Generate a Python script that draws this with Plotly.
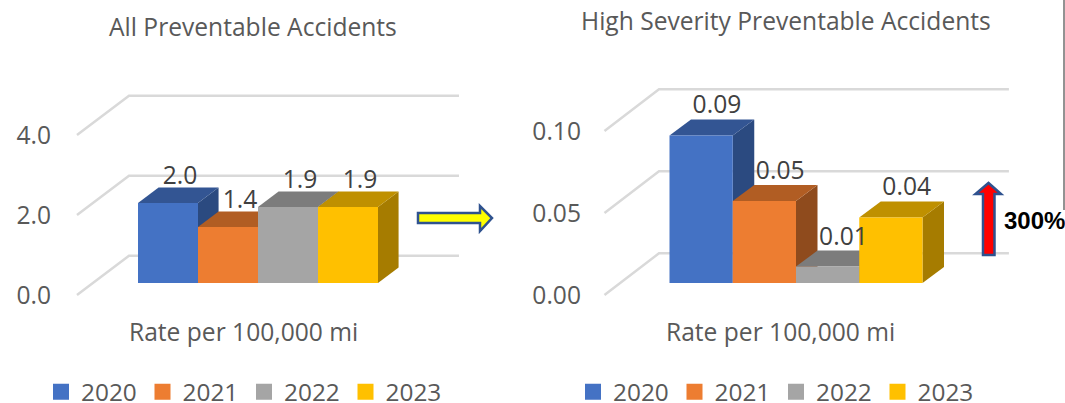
import plotly.graph_objects as go

W, H = 1065, 403
years = ["2020", "2021", "2022", "2023"]
all_rates = [2.0, 1.4, 1.9, 1.9]
all_labels = ["2.0", "1.4", "1.9", "1.9"]
high_rates = [0.09, 0.05, 0.01, 0.04]
high_labels = ["0.09", "0.05", "0.01", "0.04"]
all_ticks = [0.0, 2.0, 4.0]
all_ticktext = ["0.0", "2.0", "4.0"]
high_ticks = [0.00, 0.05, 0.10]
high_ticktext = ["0.00", "0.05", "0.10"]
front = ["#4472C4", "#ED7D31", "#A5A5A5", "#FFC000"]
top = ["#335593", "#B15D23", "#7C7C7C", "#BF9000"]
side = ["#2B4A80", "#8F4B1D", "#636363", "#A67C00"]
GRID = "#D9D9D9"
FONT = "Open Sans"
TICK = "#595959"
LABEL = "#404040"
SIZE = 24.6


def fx(p):
    return p / W


def fy(p):
    return 1 - p / H


fig = go.Figure()


def panel(n, vals, labels, ticks, ticktext, x0px, xunit, y0px, yunit, dom,
          depth_x, depth_y, wall_y, floor_y, wall_xl, wall_xr, ob_x, label_dx, label_dy, legend):
    a = 2 * n - 1
    b = 2 * n
    xa, ya = ("x" if a == 1 else f"x{a}"), ("y" if a == 1 else f"y{a}")
    xb, yb = f"x{b}", f"y{b}"
    xrange_ = [(dom[0] - x0px) / xunit, (dom[1] - x0px) / xunit]
    yrange_ = [(y0px - dom[3]) / yunit, (y0px - dom[2]) / yunit]
    # gridlines on back wall and side wall
    gx, gy = [], []
    for t in ticks:
        gx += [ob_x, wall_xl, wall_xr, None]
        gy += [t + floor_y, t + wall_y, t + wall_y, None]
    fig.add_trace(go.Scatter(x=gx, y=gy, mode="lines", xaxis=xa, yaxis=ya,
                             line=dict(color=GRID, width=2.5), showlegend=False, hoverinfo="skip"))
    # 3D faces, left to right
    for i, v in enumerate(vals):
        fig.add_trace(go.Scatter(
            x=[i + 1, i + 1 + depth_x, i + 1 + depth_x, i + 1, i + 1],
            y=[0, depth_y, v + depth_y, v, 0],
            mode="lines", fill="toself", fillcolor=side[i], line=dict(width=0, color=side[i]),
            xaxis=xa, yaxis=ya, showlegend=False, hoverinfo="skip"))
        fig.add_trace(go.Scatter(
            x=[i, i + 1, i + 1 + depth_x, i + depth_x, i],
            y=[v, v, v + depth_y, v + depth_y, v],
            mode="lines", fill="toself", fillcolor=top[i], line=dict(width=0, color=top[i]),
            xaxis=xa, yaxis=ya, showlegend=False, hoverinfo="skip"))
    # front faces
    fig.add_trace(go.Bar(x=[i + 0.5 for i in range(4)], y=vals, width=1,
                         marker=dict(color=front, line=dict(width=0)),
                         xaxis=xb, yaxis=yb, showlegend=False))
    fig.add_trace(go.Scatter(x=[i + 0.5 + label_dx for i in range(4)],
                             y=[v + label_dy for v in vals], text=labels, mode="text",
                             textposition="middle center",
                             textfont=dict(family=FONT, size=SIZE, color=LABEL),
                             xaxis=xb, yaxis=yb, showlegend=False, cliponaxis=False))
    # legend entries
    for i, yr in enumerate(years):
        fig.add_trace(go.Scatter(x=[None], y=[None], mode="markers", name=yr,
                                 marker=dict(symbol="square", size=16, color=front[i]),
                                 xaxis=xb, yaxis=yb, legend=legend))
    dx = [fx(dom[0]), fx(dom[1])]
    dy = [fy(dom[3]), fy(dom[2])]
    hide = dict(showgrid=False, zeroline=False, showline=False, showticklabels=False, ticks="")
    fig.update_layout({
        ("xaxis" if a == 1 else f"xaxis{a}"): dict(domain=dx, range=xrange_, anchor=ya, **hide),
        ("yaxis" if a == 1 else f"yaxis{a}"): dict(
            domain=dy, range=yrange_, anchor=xa, showgrid=False, zeroline=False, showline=False,
            ticks="", tickvals=[t + floor_y for t in ticks], ticktext=ticktext,
            tickfont=dict(family=FONT, size=SIZE, color=TICK)),
        f"xaxis{b}": dict(domain=dx, range=xrange_, anchor=yb, overlaying=xa, **hide),
        f"yaxis{b}": dict(domain=dy, range=yrange_, anchor=xb, overlaying=ya, **hide),
    })


panel(1, all_rates, all_labels, all_ticks, all_ticktext,
      x0px=138, xunit=60, y0px=283, yunit=40, dom=(52, 500, 60, 320),
      depth_x=0.343, depth_y=0.3875, wall_y=0.68, floor_y=-0.3,
      wall_xl=-0.15, wall_xr=5.35, ob_x=-1.017, label_dx=0.2, label_dy=0.625, legend="legend")
panel(2, high_rates, high_labels, high_ticks, high_ticktext,
      x0px=669.5, xunit=63.25, y0px=283, yunit=1640, dom=(582, 1040, 60, 320),
      depth_x=0.34, depth_y=0.00976, wall_y=0.0181, floor_y=-0.0073,
      wall_xl=-0.166, wall_xr=5.366, ob_x=-1.028, label_dx=0.25, label_dy=0.0172, legend="legend2")


def txt(s, xp, yp, size=SIZE, color=TICK, family=FONT, bold=False):
    return dict(text=f"<b>{s}</b>" if bold else s, x=fx(xp), y=fy(yp), xref="paper", yref="paper",
                showarrow=False, xanchor="center", yanchor="middle",
                font=dict(family=family, size=size, color=color))


def poly(pts, fill):
    path = "M" + " L".join(f"{fx(x):.5f},{fy(y):.5f}" for x, y in pts) + " Z"
    return dict(type="path", path=path, xref="paper", yref="paper", fillcolor=fill,
                line=dict(color="#2F528F", width=2.5), layer="above")


annotations = [
    txt("All Preventable Accidents", 253, 27),
    txt("High Severity Preventable Accidents", 786, 20),
    txt("Rate per 100,000 mi", 243, 331),
    txt("Rate per 100,000 mi", 780, 331),
    txt("300%", 1034, 220, size=24, color="#000000", family="Liberation Sans", bold=True),
]
shapes = [
    poly([(418, 213), (480, 213), (480, 206), (492, 218), (480, 231), (480, 223), (418, 223)], "#FFFF00"),
    poly([(983, 255), (983, 194), (975.5, 194), (988.5, 183), (1001, 194), (994.5, 194), (994.5, 255)], "#FF0000"),
    dict(type="line", xref="paper", yref="paper", x0=fx(1064), x1=fx(1064), y0=fy(0), y1=fy(210),
         line=dict(color="#262626", width=1)),
]

legend_common = dict(orientation="h", entrywidthmode="pixels", entrywidth=56.5, itemwidth=30,
                     bgcolor="rgba(0,0,0,0)", font=dict(family=FONT, size=24.4, color=TICK),
                     xanchor="left", yanchor="middle", y=fy(392), tracegroupgap=0,
                     itemclick=False, itemdoubleclick=False)

fig.update_layout(
    width=W, height=H, margin=dict(l=0, r=0, t=0, b=0, autoexpand=False),
    paper_bgcolor="white", plot_bgcolor="white", barmode="overlay",
    font=dict(family=FONT),
    annotations=annotations, shapes=shapes,
    legend=dict(x=fx(41), **legend_common),
    legend2=dict(x=fx(573), **legend_common),
)

fig.write_html("out.html", config={"displayModeBar": False},
               post_script="document.body.style.margin='0';document.body.style.overflow='hidden';")
